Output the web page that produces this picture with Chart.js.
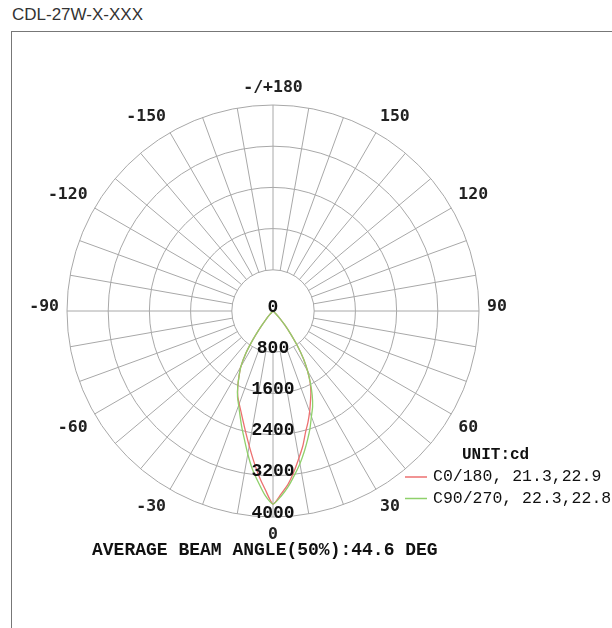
<!DOCTYPE html>
<html>
<head>
<meta charset="utf-8">
<script src="https://cdn.jsdelivr.net/npm/chart.js@4/dist/chart.umd.min.js"></script>
<style>
  html, body { margin: 0; padding: 0; background: #fff; }
  body { width: 612px; height: 628px; overflow: hidden; position: relative; }
  #title { position: absolute; left: 12px; top: 6px; font: 17px 'Liberation Sans', Arial, sans-serif; line-height: 17px; color: #333; }
  #frame { position: absolute; left: 11px; top: 31px; width: 700px; height: 700px; border: 1px solid #777; }
  #chart { position: absolute; left: 0; top: 0; }
</style>
</head>
<body>
<div id="title">CDL-27W-X-XXX</div>
<div id="frame"></div>
<canvas id="chart" width="612" height="628"></canvas>
<script>
// gamma angles (deg) measured from nadir, same for each half plane
const gammaAngles = [0, 2.5, 5, 7.5, 10, 12.5, 15, 17.5, 20, 22.5, 25, 27.5, 30, 32.5, 35, 37.5, 40, 42.5, 45, 47.5, 50];
// intensities in cd
const c0   = [3750, 3560, 3375, 3140, 2900, 2680, 2440, 2260, 2080, 1900, 1740, 1560, 1340, 1100, 830, 560, 360, 200, 70, 0, 0];
const c180 = [3750, 3470, 3200, 2920, 2660, 2430, 2230, 2060, 1920, 1790, 1620, 1430, 1250, 1000, 680, 400, 210, 90, 20, 0, 0];
const c90  = [3750, 3600, 3420, 3210, 3010, 2800, 2590, 2390, 2180, 2010, 1800, 1570, 1340, 1100, 830, 560, 360, 200, 70, 0, 0];
const c270 = [3750, 3580, 3330, 3090, 2820, 2560, 2340, 2130, 1950, 1800, 1620, 1430, 1250, 1000, 680, 400, 210, 90, 20, 0, 0];

const ringTicks = [0, 800, 1600, 2400, 3200, 4000];
const angleTicks = [-150, -120, -90, -60, -30, 0, 30, 60, 90, 120, 150, 180];
const angleTickLabels = ['-150', '-120', '-90', '-60', '-30', '0', '30', '60', '90', '120', '150', '-/+180'];
const seriesLabels = ['C0/180, 21.3,22.9', 'C90/270, 22.3,22.8'];
const unitLabel = 'UNIT:cd';
const beamText = 'AVERAGE BEAM ANGLE(50%):44.6 DEG';

const RED = '#ec7070';
const GREEN = '#8fd06b';

// left half plane drawn at negative angles, right half at positive angles
function toPoints(left, right) {
    const pts = [];
    for (let i = gammaAngles.length - 1; i > 0; i--) {
        const a = -gammaAngles[i] * Math.PI / 180;
        pts.push({ x: left[i] * Math.sin(a), y: -left[i] * Math.cos(a) });
    }
    for (let i = 0; i < gammaAngles.length; i++) {
        const a = gammaAngles[i] * Math.PI / 180;
        pts.push({ x: right[i] * Math.sin(a), y: -right[i] * Math.cos(a) });
    }
    return pts;
}

const polarGrid = {
    id: 'polarGrid',
    beforeDatasetsDraw(chart) {
        const { ctx, scales: { x, y } } = chart;
        const cx = x.getPixelForValue(0), cy = y.getPixelForValue(0);
        const rad = v => x.getPixelForValue(v) - cx;
        const rIn = rad(ringTicks[1]), rOut = rad(ringTicks[ringTicks.length - 1]);
        ctx.save();
        ctx.strokeStyle = '#a8a8a8';
        ctx.lineWidth = 1;
        ringTicks.slice(1).forEach(v => {
            ctx.beginPath();
            ctx.arc(cx, cy, rad(v), 0, Math.PI * 2);
            ctx.stroke();
        });
        for (let a = 0; a < 360; a += 10) {
            const t = a * Math.PI / 180;
            ctx.beginPath();
            ctx.moveTo(cx + rIn * Math.sin(t), cy + rIn * Math.cos(t));
            ctx.lineTo(cx + rOut * Math.sin(t), cy + rOut * Math.cos(t));
            ctx.stroke();
        }
        ctx.restore();
    },
    afterDatasetsDraw(chart) {
        const { ctx, scales: { x, y } } = chart;
        const cx = x.getPixelForValue(0), cy = y.getPixelForValue(0);
        const rad = v => x.getPixelForValue(v) - cx;
        const rOut = rad(ringTicks[ringTicks.length - 1]);
        ctx.save();

        // ring values along the 0 deg spoke
        ctx.fillStyle = '#111';
        ctx.font = "bold 18px 'Liberation Mono', 'Courier New', monospace";
        ctx.textAlign = 'center';
        ctx.textBaseline = 'alphabetic';
        ringTicks.forEach(v => ctx.fillText(String(v), cx, cy + rad(v) + 0.5));

        // angle labels
        ctx.font = "bold 16.5px 'DejaVu Sans Mono', monospace";
        ctx.fillStyle = '#222';
        ctx.textBaseline = 'middle';
        const R = rOut + 8;
        angleTicks.forEach((a, i) => {
            const t = a * Math.PI / 180;
            const s = Math.sin(t), c = Math.cos(t);
            const px = cx + R * s, py = cy + R * c;
            ctx.textAlign = Math.abs(s) < 0.05 ? 'center' : (s > 0 ? 'left' : 'right');
            let ty;
            if (Math.abs(c) < 0.05) ty = py - 4;
            else if (c < 0) ty = py - 9;
            else ty = py + 10;
            ctx.fillText(angleTickLabels[i], px, ty);
        });

        // legend
        ctx.textAlign = 'left';
        ctx.fillStyle = '#111';
        ctx.font = "bold 16px 'Liberation Mono', 'Courier New', monospace";
        ctx.fillText(unitLabel, 462, 455);
        ctx.font = "16.5px 'Liberation Mono', 'Courier New', monospace";
        chart.data.datasets.forEach((ds, i) => {
            const ly = 477 + i * 21.5;
            ctx.strokeStyle = ds.borderColor;
            ctx.lineWidth = 1.5;
            ctx.beginPath();
            ctx.moveTo(405, ly);
            ctx.lineTo(427, ly);
            ctx.stroke();
            ctx.fillStyle = '#111';
            ctx.fillText(ds.label, 433, ly);
        });

        // beam angle note
        ctx.font = "bold 18px 'Liberation Mono', 'Courier New', monospace";
        ctx.textBaseline = 'alphabetic';
        ctx.fillText(beamText, 92, 555);
        ctx.restore();
    }
};

new Chart(document.getElementById('chart'), {
    type: 'scatter',
    data: {
        datasets: [
            { label: seriesLabels[0], data: toPoints(c180, c0), borderColor: RED, order: 1, showLine: true, pointRadius: 0, borderWidth: 1.3, tension: 0.2, fill: false },
            { label: seriesLabels[1], data: toPoints(c270, c90), borderColor: GREEN, order: 0, showLine: true, pointRadius: 0, borderWidth: 1.3, tension: 0.2, fill: false }
        ]
    },
    options: {
        responsive: false,
        animation: false,
        devicePixelRatio: 1,
        layout: { padding: { left: 67, right: 133, top: 105, bottom: 111 } },
        plugins: { legend: { display: false }, tooltip: { enabled: false } },
        scales: {
            x: { type: 'linear', min: -4000, max: 4000, display: false },
            y: { type: 'linear', min: -4000, max: 4000, display: false }
        }
    },
    plugins: [polarGrid]
});
</script>
</body>
</html>
